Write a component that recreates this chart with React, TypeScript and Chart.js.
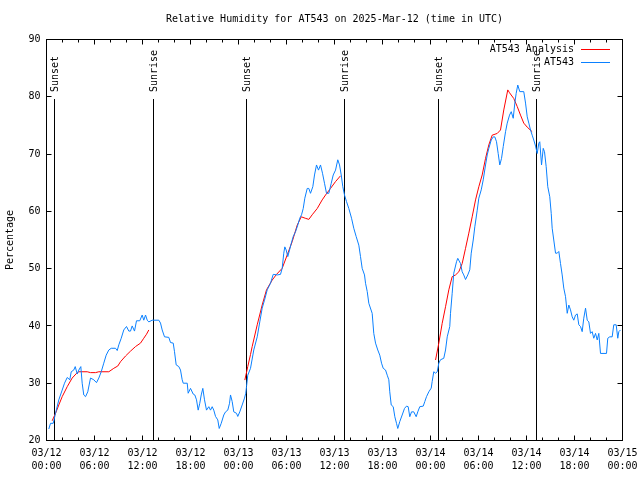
import React, { useEffect, useRef } from "react";
import { Chart, registerables } from "chart.js";

Chart.register(...registerables);

const TITLE = "Relative Humidity for AT543 on 2025-Mar-12 (time in UTC)";
const Y_LABEL = "Percentage";
const LEGEND_LABELS = ["AT543 Analysis", "AT543"];
const SERIES_COLORS = ["#ff0000", "#0a80ff"];

const X_TICK_HOURS = [0, 6, 12, 18, 24, 30, 36, 42, 48, 54, 60, 66, 72];
const X_TICK_DATES = ["03/12", "03/12", "03/12", "03/12", "03/13", "03/13", "03/13", "03/13", "03/14", "03/14", "03/14", "03/14", "03/15"];
const X_TICK_TIMES = ["00:00", "06:00", "12:00", "18:00", "00:00", "06:00", "12:00", "18:00", "00:00", "06:00", "12:00", "18:00", "00:00"];
const Y_TICKS = [20, 30, 40, 50, 60, 70, 80, 90];

const SUN_HOURS = [1.0, 13.37, 25.0, 37.25, 49.0, 61.25];
const SUN_LABELS = ["Sunset", "Sunrise", "Sunset", "Sunrise", "Sunset", "Sunrise"];
const SUN_LINE_TOP = 79.6;

// AT543 observations (hours since 03/12 00:00 UTC, % RH)
const OBS_HOURS = [
  0.29, 0.5, 0.84, 1.13, 1.54, 1.96, 2.25, 2.59, 2.91, 3.09, 3.41, 3.59, 3.84, 4.04, 4.29, 4.46, 4.66, 4.88, 5.16, 5.5,
  5.91, 6.25, 6.54, 6.84, 7.16, 7.46, 7.79, 8.09, 8.63, 8.84, 9.04, 9.34, 9.66, 10.0, 10.29, 10.5, 10.71, 11.0, 11.25, 11.66,
  11.96, 12.16, 12.38, 12.59, 12.79, 13.21, 14.04, 14.25, 14.46, 14.75, 15.29, 15.5, 15.84, 16.0, 16.21, 16.54, 16.75, 16.96, 17.09, 17.59,
  17.71, 18.0, 18.34, 18.54, 18.75, 18.96, 19.16, 19.34, 19.54, 19.75, 20.0, 20.29, 20.5, 20.71, 20.91, 21.13, 21.41, 21.59, 21.84, 22.16,
  22.38, 22.66, 22.88, 23.0, 23.21, 23.41, 23.75, 23.91, 24.16, 24.46, 24.75, 24.91, 25.0, 25.16, 25.5, 25.91, 26.34, 26.66, 26.96, 27.25,
  27.59, 28.0, 28.34, 28.84, 29.25, 29.46, 29.66, 29.79, 29.96, 30.16, 30.38, 30.59, 30.84, 31.13, 31.41, 31.66, 31.88, 32.09, 32.29, 32.59,
  32.79, 33.0, 33.29, 33.5, 33.75, 34.0, 34.25, 34.5, 34.75, 35.0, 35.29, 35.59, 35.84, 36.13, 36.41, 36.63, 36.84, 37.04, 37.25, 37.5,
  37.79, 38.13, 38.41, 38.71, 39.04, 39.25, 39.46, 39.75, 39.88, 40.09, 40.29, 40.71, 40.91, 41.13, 41.41, 41.66, 41.88, 42.09, 42.38, 42.59,
  42.79, 42.91, 43.09, 43.34, 43.54, 43.75, 43.91, 44.16, 44.46, 44.75, 45.0, 45.21, 45.41, 45.63, 45.91, 46.21, 46.41, 46.66, 47.09, 47.29,
  47.5, 47.79, 48.09, 48.21, 48.41, 48.63, 48.84, 49.04, 49.25, 49.66, 49.88, 50.09, 50.41, 50.5, 50.71, 50.91, 51.25, 51.41, 51.75, 51.96,
  52.16, 52.38, 52.66, 52.91, 53.09, 53.34, 53.54, 53.84, 54.04, 54.34, 54.59, 54.88, 55.09, 55.29, 55.59, 55.84, 56.04, 56.25, 56.46, 56.66,
  56.88, 57.09, 57.38, 57.59, 57.88, 58.09, 58.34, 58.54, 58.71, 58.91, 59.16, 59.66, 59.88, 60.09, 60.29, 60.5, 60.71, 60.91, 61.13, 61.34,
  61.54, 61.66, 61.88, 62.09, 62.25, 62.46, 62.66, 62.91, 63.09, 63.21, 63.41, 63.63, 63.84, 64.04, 64.25, 64.46, 64.66, 64.88, 65.09, 65.29,
  65.5, 65.71, 65.91, 66.13, 66.34, 66.54, 66.75, 66.96, 67.16, 67.38, 67.59, 67.79, 68.0, 68.21, 68.41, 68.63, 68.84, 69.04, 69.25, 70.0,
  70.16, 70.41, 70.71, 70.91, 71.21, 71.41, 71.54, 71.75,
];
const OBS_RH = [
  22.0, 23.0, 23.0, 24.75, 27.1, 28.8, 30.0, 31.0, 30.6, 32.0, 32.3, 32.9, 31.6, 32.3, 32.9, 30.0, 27.95, 27.65, 28.5, 30.9,
  30.6, 30.1, 30.9, 32.0, 33.5, 34.9, 35.8, 36.1, 36.1, 35.7, 36.7, 37.85, 39.3, 39.9, 39.1, 39.1, 40.0, 39.1, 40.9, 40.9,
  41.9, 41.0, 41.9, 41.0, 40.7, 41.0, 41.0, 40.5, 39.3, 38.1, 38.0, 37.1, 37.0, 35.5, 33.2, 32.9, 32.3, 30.6, 30.0, 30.0,
  28.25, 29.1, 28.1, 27.95, 27.1, 25.3, 26.5, 27.95, 29.1, 27.1, 25.3, 25.9, 25.3, 25.9, 25.3, 24.2, 23.6, 22.1, 23.0, 24.45,
  25.0, 25.3, 26.5, 27.95, 26.8, 25.0, 24.75, 24.2, 25.0, 26.2, 27.4, 28.25, 29.4, 31.4, 32.6, 35.8, 38.1, 40.7, 43.1, 44.5,
  46.3, 47.45, 49.0, 48.9, 49.0, 50.05, 52.7, 53.8, 53.25, 52.1, 53.25, 54.4, 55.6, 56.45, 57.6, 58.8, 59.4, 60.5, 62.3, 64.0,
  64.0, 63.15, 64.3, 66.35, 68.1, 67.2, 68.1, 66.65, 64.9, 63.15, 63.15, 64.9, 66.35, 67.2, 69.0, 68.1, 66.35, 64.3, 62.85, 61.7,
  60.5, 58.8, 57.05, 55.6, 54.1, 52.1, 50.05, 48.9, 47.45, 46.0, 43.95, 42.2, 38.7, 37.0, 35.8, 34.9, 33.5, 32.6, 32.3, 31.4,
  30.6, 28.5, 26.2, 25.9, 24.15, 23.0, 22.1, 23.3, 24.45, 25.6, 26.0, 25.9, 24.15, 25.0, 25.0, 24.15, 25.0, 25.9, 26.0, 26.8,
  27.65, 28.5, 29.15, 30.3, 32.0, 31.75, 32.0, 33.5, 34.1, 34.35, 35.8, 38.1, 39.9, 42.2, 45.7, 49.2, 51.2, 51.8, 50.9, 49.45,
  48.9, 48.1, 48.9, 49.8, 52.7, 55.0, 57.3, 60.2, 62.3, 63.75, 65.5, 68.1, 69.85, 71.0, 72.45, 73.0, 73.0, 72.15, 70.1, 68.1,
  69.25, 71.3, 73.9, 75.4, 76.8, 77.4, 76.25, 78.9, 80.6, 82.05, 80.9, 80.9, 78.9, 76.5, 75.4, 74.2, 73.3, 72.45, 71.4, 70.1,
  71.9, 72.15, 68.1, 71.0, 70.4, 67.8, 64.3, 62.55, 59.65, 57.05, 55.0, 52.7, 52.7, 53.0, 50.9, 48.9, 46.6, 45.1, 42.2, 43.65,
  42.8, 41.6, 41.0, 41.9, 42.1, 40.2, 39.9, 39.0, 41.35, 43.1, 41.0, 40.7, 38.7, 39.0, 37.85, 38.7, 37.55, 38.7, 35.2, 35.2,
  37.85, 38.1, 38.1, 40.2, 40.2, 37.85, 39.0, 39.3,
];

// AT543 Analysis (null marks a gap between runs)
const ANALYSIS_HOURS = [
  0.71, 1.13, 1.54, 1.96, 2.59, 3.21, 3.84, 4.04, 5.09, 5.5, 6.13, 6.54, 7.79, 8.41, 8.91, 9.25, 9.88, 10.5, 11.13, 11.75,
  12.16, 12.5, 12.79, 18.0,
  24.79, 25.16, 25.5, 25.71, 26.34, 26.96, 27.5, 28.21, 28.75, 29.46, 30.09, 30.71, 31.34, 31.84, 32.34, 32.79, 33.21, 33.84, 34.46, 34.88,
  35.5, 36.13, 36.75, 42.0,
  48.63, 49.04, 49.46, 49.88, 50.29, 50.71, 51.13, 51.54, 51.96, 52.38, 52.79, 53.21, 53.63, 54.04, 54.46, 54.88, 55.29, 55.71, 56.34, 56.75,
  57.16, 57.66, 57.88, 58.41, 58.84, 59.25, 59.66, 60.09, 60.71,
];
const ANALYSIS_RH = [
  23.45, 24.75, 26.2, 27.65, 29.4, 30.9, 31.85, 32.0, 32.0, 31.85, 31.85, 32.0, 32.0, 32.6, 33.0, 33.75, 34.75, 35.6, 36.4, 37.0,
  37.85, 38.55, 39.3, null,
  30.55, 32.9, 35.0, 36.4, 40.2, 43.65, 46.3, 48.0, 49.0, 50.05, 52.4, 54.7, 57.6, 59.05, 58.8, 58.6, 59.4, 60.5, 62.0, 62.85,
  64.0, 65.2, 66.2, null,
  34.05, 37.0, 40.45, 43.35, 46.3, 48.6, 48.9, 49.45, 50.9, 53.55, 56.2, 59.05, 62.0, 64.3, 66.35, 69.25, 71.6, 73.3, 73.6, 74.2,
  77.7, 81.2, 80.7, 79.7, 78.3, 76.8, 75.4, 74.7, 73.9,
];

const FONT = '10px "DejaVu Sans Mono", "Liberation Mono", monospace';

const gnuplotDecor = {
  id: "gnuplotDecor",
  beforeDatasetsDraw(chart: any) {
    const ctx = chart.ctx;
    const { left, right, top, bottom } = chart.chartArea;
    const xs = chart.scales.x;
    const ys = chart.scales.y;
    ctx.save();
    ctx.strokeStyle = "#000";
    ctx.fillStyle = "#000";
    ctx.lineWidth = 1;
    ctx.font = FONT;

    // frame
    ctx.strokeRect(left, top, right - left, bottom - top);

    // x ticks (inward, every 2h, major every 6h)
    ctx.beginPath();
    for (let h = 2; h < 72; h += 2) {
      const px = xs.getPixelForValue(h);
      const len = h % 6 === 0 ? 5 : 3;
      ctx.moveTo(px, bottom);
      ctx.lineTo(px, bottom - len);
      ctx.moveTo(px, top);
      ctx.lineTo(px, top + len);
    }
    // y ticks
    Y_TICKS.forEach((v) => {
      if (v === 20 || v === 90) return;
      const py = Math.floor(ys.getPixelForValue(v)) + 0.5;
      ctx.moveTo(left, py);
      ctx.lineTo(left + 5, py);
      ctx.moveTo(right, py);
      ctx.lineTo(right - 5, py);
    });
    ctx.stroke();

    // x tick labels
    ctx.textAlign = "center";
    ctx.textBaseline = "middle";
    X_TICK_HOURS.forEach((h, i) => {
      const px = xs.getPixelForValue(h);
      ctx.fillText(X_TICK_DATES[i], px, bottom + 13);
      ctx.fillText(X_TICK_TIMES[i], px, bottom + 26);
    });

    // y tick labels
    ctx.textAlign = "right";
    Y_TICKS.forEach((v) => {
      const py = ys.getPixelForValue(v);
      ctx.fillText(String(v), left - 6, py);
    });

    // title
    ctx.textAlign = "center";
    ctx.fillText(TITLE, (left + right) / 2, 19);

    // y axis title
    ctx.save();
    ctx.translate(10, (top + bottom) / 2);
    ctx.rotate(-Math.PI / 2);
    ctx.fillText(Y_LABEL, 0, 0);
    ctx.restore();

    // sunrise / sunset markers
    const lineTop = Math.round(ys.getPixelForValue(SUN_LINE_TOP));
    ctx.beginPath();
    SUN_HOURS.forEach((h) => {
      const px = Math.floor(xs.getPixelForValue(h)) + 0.5;
      ctx.moveTo(px, lineTop);
      ctx.lineTo(px, bottom);
    });
    ctx.stroke();
    SUN_HOURS.forEach((h, i) => {
      const px = Math.floor(xs.getPixelForValue(h)) + 0.5;
      ctx.save();
      ctx.translate(px + 1, lineTop - 7);
      ctx.rotate(-Math.PI / 2);
      ctx.textAlign = "left";
      ctx.textBaseline = "middle";
      ctx.fillText(SUN_LABELS[i], 0, 0);
      ctx.restore();
    });
    ctx.restore();
  },
  afterDatasetsDraw(chart: any) {
    const ctx = chart.ctx;
    ctx.save();
    ctx.font = FONT;
    ctx.textAlign = "right";
    ctx.textBaseline = "middle";
    ctx.fillStyle = "#000";
    ctx.lineWidth = 1;
    LEGEND_LABELS.forEach((label, i) => {
      const y = 49.5 + i * 13;
      ctx.fillText(label, 574, y);
      ctx.strokeStyle = SERIES_COLORS[i];
      ctx.beginPath();
      ctx.moveTo(581, y);
      ctx.lineTo(610, y);
      ctx.stroke();
    });
    ctx.restore();
  },
};

export default function App() {
  const ref = useRef<HTMLCanvasElement | null>(null);
  useEffect(() => {
    if (!ref.current) return;
    const obs = OBS_HOURS.map((h, i) => ({ x: h, y: OBS_RH[i] }));
    const ana = ANALYSIS_HOURS.map((h, i) => ({ x: h, y: ANALYSIS_RH[i] }));
    const chart = new Chart(ref.current, {
      type: "line",
      data: {
        datasets: [
          {
            label: LEGEND_LABELS[1],
            data: obs,
            borderColor: SERIES_COLORS[1],
            borderWidth: 1,
            pointRadius: 0,
            tension: 0,
            order: 0,
          },
          {
            label: LEGEND_LABELS[0],
            data: ana as any,
            borderColor: SERIES_COLORS[0],
            borderWidth: 1,
            pointRadius: 0,
            tension: 0,
            spanGaps: false,
            order: 1,
          },
        ],
      },
      options: {
        responsive: false,
        animation: false,
        layout: { padding: { left: 46.5, right: 17.5, top: 39.5, bottom: 39.5 } },
        scales: {
          x: { type: "linear", min: 0, max: 72, display: false },
          y: { type: "linear", min: 20, max: 90, display: false },
        },
        plugins: { legend: { display: false }, tooltip: { enabled: false }, title: { display: false } },
      },
      plugins: [gnuplotDecor],
    });
    return () => chart.destroy();
  }, []);
  return (
    <div style={{ position: "fixed", left: 0, top: 0, width: 640, height: 480, background: "#fff" }}>
      <canvas ref={ref} width={640} height={480} style={{ display: "block" }} />
    </div>
  );
}
